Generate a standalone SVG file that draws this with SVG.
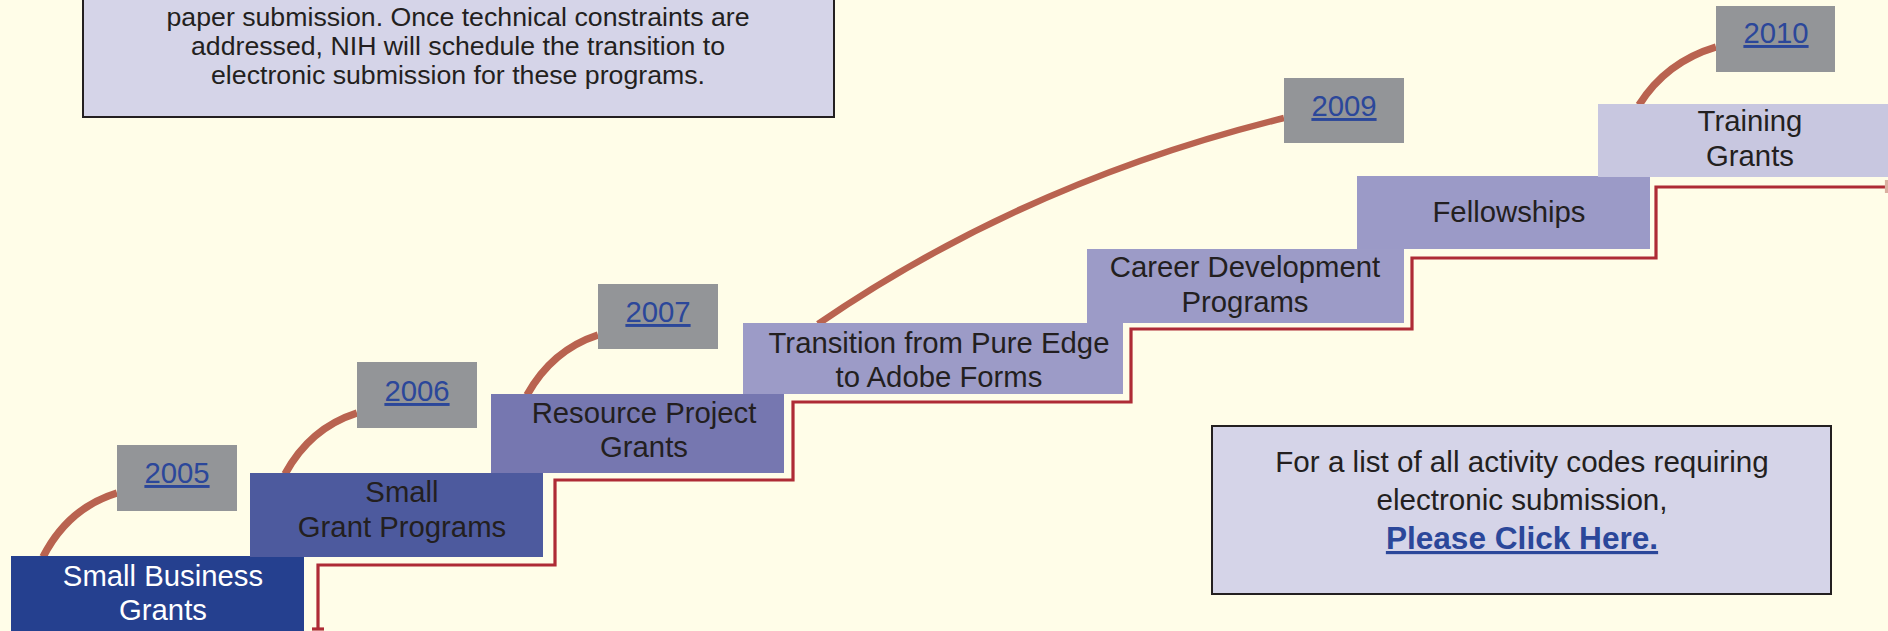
<svg xmlns="http://www.w3.org/2000/svg" width="1888" height="631" viewBox="0 0 1888 631">
<style>
.t{font-family:"Liberation Sans",Arial,sans-serif;font-size:29.3px;fill:#231f20;text-anchor:middle}
.w{fill:#ffffff}
.yr{fill:#939598}
.yt{font-family:"Liberation Sans",Arial,sans-serif;font-size:29.3px;fill:#2b479a;text-anchor:middle;text-decoration:underline}
.info{fill:#d5d4e8;stroke:#231f20;stroke-width:2}
.arc{fill:none;stroke:#b96350;stroke-width:7.5;stroke-linecap:butt}
.stair{fill:none;stroke:#ae2b35;stroke-width:3.2}
</style>
<rect x="0" y="0" width="1888" height="631" fill="#fffde8"/>
<g id="connectors">
<path class="arc" d="M 43 557 Q 68 508 117 493"/>
<path class="arc" d="M 285 474 Q 310 428 357 413"/>
<path class="arc" d="M 527 395 Q 552 350 598 335"/>
<path class="arc" style="stroke-width:6.5" d="M 818 324 Q 1025 182 1284 118"/>
<path class="arc" d="M 1639 105 Q 1666 62 1716 47"/>
<path class="stair" d="M 318 629 V 565 H 555 V 480 H 793 V 402 H 1131 V 329 H 1412 V 258 H 1656 V 187 H 1888"/>
<path class="stair" d="M 312 629 H 324"/>
<path class="stair" style="stroke:#d9b0a0" d="M 1886.5 180 V 193"/>
</g>
<g id="info-top">
<rect class="info" x="83" y="-20" width="751" height="137"/>
<text class="t" style="font-size:26.7px" x="458" y="26">paper submission. Once technical constraints are</text>
<text class="t" style="font-size:26.7px" x="458" y="55">addressed, NIH will schedule the transition to</text>
<text class="t" style="font-size:26.7px" x="458" y="84">electronic submission for these programs.</text>
</g>
<g id="node-small-business">
<rect x="11" y="556" width="293" height="80" fill="#25408f"/>
<text class="t w" x="163" y="586">Small Business</text>
<text class="t w" x="163" y="620">Grants</text>
</g>
<g id="node-small-grant">
<rect x="250" y="473" width="293" height="84" fill="#4d5a9e"/>
<text class="t" x="402" y="502">Small</text>
<text class="t" x="402" y="537">Grant Programs</text>
</g>
<g id="node-resource">
<rect x="491" y="394" width="293" height="79" fill="#7677b0"/>
<text class="t" x="644" y="423">Resource Project</text>
<text class="t" x="644" y="457">Grants</text>
</g>
<g id="node-transition">
<rect x="743" y="323" width="380" height="71" fill="#9c9bc7"/>
<text class="t" x="939" y="353">Transition from Pure Edge</text>
<text class="t" x="939" y="387">to Adobe Forms</text>
</g>
<g id="node-career">
<rect x="1087" y="249" width="317" height="74" fill="#9c9bc7"/>
<text class="t" x="1245" y="277">Career Development</text>
<text class="t" x="1245" y="312">Programs</text>
</g>
<g id="node-fellowships">
<rect x="1357" y="176" width="293" height="73" fill="#9b9ac7"/>
<text class="t" x="1509" y="222">Fellowships</text>
</g>
<g id="node-training">
<rect x="1598" y="104" width="295" height="73" fill="#c8c7e0"/>
<text class="t" x="1750" y="131">Training</text>
<text class="t" x="1750" y="166">Grants</text>
</g>
<g id="year-2005">
<rect class="yr" x="117" y="445" width="120" height="66"/>
<text class="yt" x="177" y="483">2005</text>
</g>
<g id="year-2006">
<rect class="yr" x="357" y="362" width="120" height="66"/>
<text class="yt" x="417" y="401">2006</text>
</g>
<g id="year-2007">
<rect class="yr" x="598" y="284" width="120" height="65"/>
<text class="yt" x="658" y="322">2007</text>
</g>
<g id="year-2009">
<rect class="yr" x="1284" y="78" width="120" height="65"/>
<text class="yt" x="1344" y="116">2009</text>
</g>
<g id="year-2010">
<rect class="yr" x="1716" y="6" width="119" height="66"/>
<text class="yt" x="1776" y="43">2010</text>
</g>
<g id="info-bottom">
<rect class="info" x="1212" y="426" width="619" height="168"/>
<text class="t" style="font-size:29.6px" x="1522" y="472">For a list of all activity codes requiring</text>
<text class="t" style="font-size:29.6px" x="1522" y="510">electronic submission,</text>
<text class="t" style="font-size:31.6px;font-weight:bold;fill:#2b479a;text-decoration:underline" x="1522" y="549">Please Click Here.</text>
</g>
</svg>
